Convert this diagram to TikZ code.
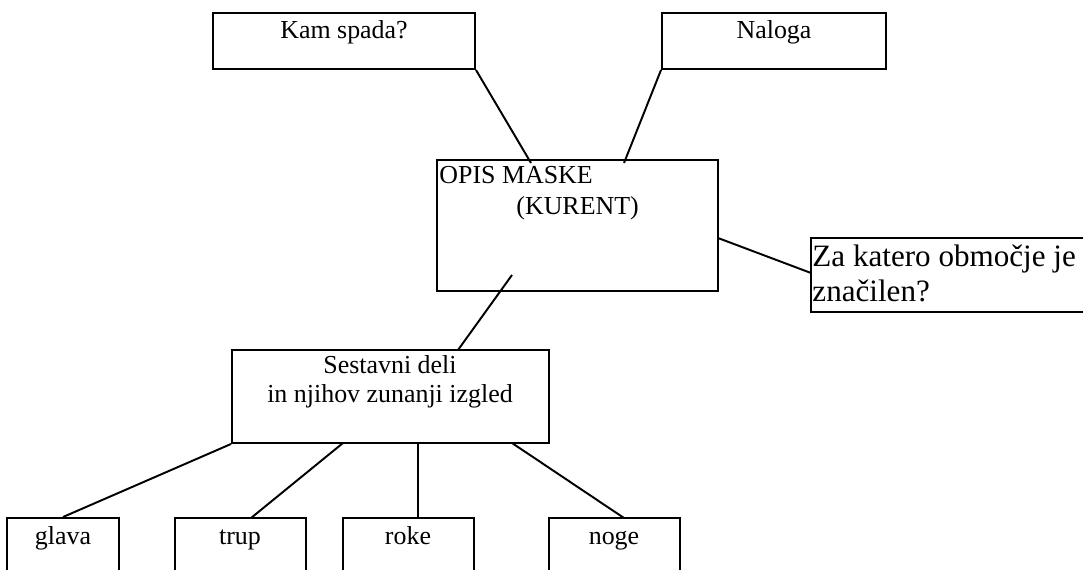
\documentclass[tikz,border=0pt]{standalone}
\usepackage{fontspec}
\setmainfont{Liberation Serif}
\usetikzlibrary{fit}

\begin{document}
\begin{tikzpicture}[x=0.463pt, y=-0.463pt,
		box/.style={draw, line width=0.9pt, inner sep=0pt},
		txt/.style={inner sep=0pt, anchor=base, font=\fontsize{12}{14}\selectfont},
		bigtxt/.style={inner sep=0pt, anchor=base west, font=\fontsize{14.4}{16}\selectfont},
		link/.style={line width=0.9pt}]
			%%%%% START %%%%%
			
			\clip (0, 0) rectangle (1083, 570);
			\fill[white] (0, 0) rectangle (1083, 570);
			
			\node[box, fit={(213, 13) (475, 69)}] (kam) {};
			\node[txt] (kamtxt) at (344, 39) {Kam spada?};
			\node[box, fit={(662, 13) (886, 69)}] (naloga) {};
			\node[txt] (nalogatxt) at (774, 39) {Naloga};
			
			\node[box, fit={(437, 160) (718, 291)}] (opis) {};
			\node[txt, anchor=base west] (opistxt) at (439, 184) {OPIS MASKE};
			\node[txt, anchor=base west] (kurent) at (516, 215) {(KURENT)};
			
			\node[box, fit={(811, 238) (1100, 312)}] (obmocje) {};
			\node[bigtxt] (obmocje1) at (812, 267) {Za katero območje je};
			\node[bigtxt] (obmocje2) at (812, 302) {značilen?};
			
			\node[box, fit={(232, 350) (549, 443)}] (deli) {};
			\node[txt] (deli1) at (390, 374) {Sestavni deli};
			\node[txt] (deli2) at (390, 402) {in njihov zunanji izgled};
			
			\node[box, fit={(7, 518) (119, 600)}] (glava) {};
			\node[txt] (glavatxt) at (63, 544) {glava};
			\node[box, fit={(175, 518) (306, 600)}] (trup) {};
			\node[txt] (truptxt) at (240, 544) {trup};
			\node[box, fit={(343, 518) (474, 600)}] (roke) {};
			\node[txt] (roketxt) at (408, 544) {roke};
			\node[box, fit={(549, 518) (680, 600)}] (noge) {};
			\node[txt] (nogetxt) at (614, 544) {noge};
			
			\coordinate (opisL) at (531, 163);
			\coordinate (opisM) at (624, 163);
			\coordinate (opisR) at (718, 238);
			\coordinate (obmocjeL) at (811, 273);
			\coordinate (opisB) at (512, 275);
			\coordinate (deliT) at (458, 350);
			\coordinate (deliB1) at (343, 443);
			\coordinate (deliB2) at (418, 443);
			\coordinate (deliB3) at (512, 443);
			\coordinate (trupT) at (251, 518);
			\coordinate (rokeT) at (418, 518);
			\coordinate (nogeT) at (624, 518);
			
			\draw[link] (kam.south east) -- (opisL);
			\draw[link] (naloga.south west) -- (opisM);
			\draw[link] (opisR) -- (obmocjeL);
			\draw[link] (opisB) -- (deliT);
			
			\draw[link] (deli.south west) -- (glava.north);
			\draw[link] (deliB1) -- (trupT);
			\draw[link] (deliB2) -- (rokeT);
			\draw[link] (deliB3) -- (nogeT);
			
			%%%%% END %%%%%
		\end{tikzpicture}
\end{document}
